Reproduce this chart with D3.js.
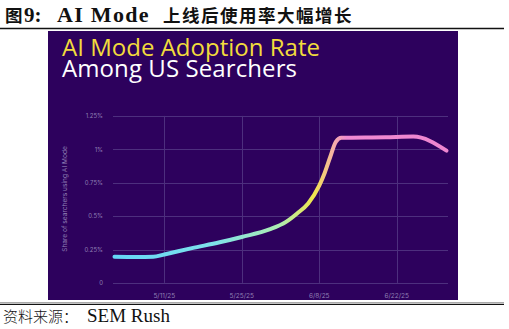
<!DOCTYPE html>
<html>
<head>
<meta charset="utf-8">
<script src="https://cdn.jsdelivr.net/npm/d3@7"></script>
<style>
  html, body { margin: 0; padding: 0; background: #fff; }
  svg { display: block; }
</style>
</head>
<body>
<svg id="chart" width="509" height="329"></svg>
<script>
// 采用率数据（日期, 占比 %）
const dates = ['2025-05-02', '2025-05-06', '2025-05-09', '2025-05-11', '2025-05-16', '2025-05-21',
  '2025-05-25', '2025-05-30', '2025-06-02', '2025-06-04', '2025-06-06', '2025-06-08',
  '2025-06-09', '2025-06-10', '2025-06-11', '2025-06-12', '2025-06-20', '2025-06-25', '2025-07-01'];
const shares = [0.195, 0.193, 0.195, 0.213, 0.26, 0.304,
  0.344, 0.40, 0.457, 0.52, 0.595, 0.728,
  0.825, 0.944, 1.056, 1.086, 1.09, 1.095, 0.99];
const xTicks = ['2025-05-11', '2025-05-25', '2025-06-08', '2025-06-22'];
const yTicks = [0, 0.25, 0.5, 0.75, 1, 1.25];
const yTickLabels = ['0', '0.25%', '0.5%', '0.75%', '1%', '1.25%'];

const parse = d3.timeParse('%Y-%m-%d');
const fmtDate = d3.timeFormat('%-m/%-d/%y');
const data = dates.map((d, i) => ({ date: parse(d), v: shares[i] }));

const svg = d3.select('#chart');

// 报告标题
const cjk = '"Noto Sans CJK SC"';
const serif = '"Liberation Serif", "Times New Roman", serif';
svg.append('text').attr('x', 5).attr('y', 22).attr('font-family', cjk).attr('font-size', 17.5)
  .attr('font-weight', 'bold').attr('fill', '#111').text('图');
svg.append('text').attr('x', 24).attr('y', 22).attr('font-family', serif).attr('font-size', 21)
  .attr('font-weight', 'bold').attr('fill', '#111').text('9:');
svg.append('text').attr('x', 57).attr('y', 22).attr('font-family', serif).attr('font-size', 22)
  .attr('font-weight', 'bold').attr('letter-spacing', 1.3).attr('fill', '#111').text('AI Mode');
svg.append('text').attr('x', 163).attr('y', 22).attr('font-family', cjk).attr('font-size', 17.5)
  .attr('font-weight', 'bold').attr('letter-spacing', 1.5).attr('fill', '#111').text('上线后使用率大幅增长');

svg.append('line').attr('x1', 0).attr('x2', 504).attr('y1', 28.5).attr('y2', 28.5)
  .attr('stroke', '#111').attr('stroke-width', 1.5);

// 紫色面板
const panel = { x: 48, y: 31, w: 410, h: 269 };
svg.append('rect').attr('x', panel.x).attr('y', panel.y)
  .attr('width', panel.w).attr('height', panel.h).attr('fill', '#2d015d');

// 面板标题：按目标宽度调整字距
const sans = '"Open Sans", Lato, sans-serif';
function fitTitle(str, yPos, color, width) {
  const t = svg.append('text').attr('x', 62).attr('y', yPos)
    .attr('font-family', sans).attr('font-size', 24).attr('fill', color).text(str);
  const natural = t.node().getComputedTextLength();
  t.attr('letter-spacing', Math.max(0, (width - natural) / (str.length - 1)));
  return t;
}
fitTitle('AI Mode Adoption Rate', 56, '#f2dc3c', 258);
fitTitle('Among US Searchers', 77, '#ffffff', 235);

const x = d3.scaleTime().domain([parse('2025-05-02'), parse('2025-07-01')]).range([114.5, 446.5]);
const y = d3.scaleLinear().domain([0, 1.25]).range([282.9, 115.9]);

const gridColor = '#4d2f7e';
const labelColor = '#8f7fb3';
const small = 'Inter, "Open Sans", sans-serif';

// 网格
svg.append('g').selectAll('line').data(yTicks).enter().append('line')
  .attr('x1', 113).attr('x2', 448)
  .attr('y1', (d) => Math.round(y(d)) + 0.5).attr('y2', (d) => Math.round(y(d)) + 0.5)
  .attr('stroke', gridColor).attr('stroke-width', 1);
svg.append('g').selectAll('line').data(xTicks).enter().append('line')
  .attr('x1', (d) => Math.round(x(parse(d))) + 0.5).attr('x2', (d) => Math.round(x(parse(d))) + 0.5)
  .attr('y1', y(1.25)).attr('y2', y(0))
  .attr('stroke', gridColor).attr('stroke-width', 1);

// 刻度文字
svg.append('g').selectAll('text').data(yTicks).enter().append('text')
  .attr('x', 103).attr('y', (d) => y(d) + 2.2)
  .attr('text-anchor', 'end').attr('font-family', small).attr('font-size', 6)
  .attr('fill', labelColor).text((d, i) => yTickLabels[i]);
svg.append('g').selectAll('text').data(xTicks).enter().append('text')
  .attr('x', (d) => x(parse(d))).attr('y', 297.5)
  .attr('text-anchor', 'middle').attr('font-family', small).attr('font-size', 6.5)
  .attr('fill', labelColor).text((d) => fmtDate(parse(d)));

svg.append('text').attr('transform', 'translate(67,199) rotate(-90)')
  .attr('text-anchor', 'middle').attr('font-family', small).attr('font-size', 6.6)
  .attr('fill', labelColor).text('Share of searchers using AI Mode');

// 渐变曲线：青 → 薄荷 → 黄 → 粉
const grad = svg.append('defs').append('linearGradient').attr('id', 'lineGrad')
  .attr('gradientUnits', 'userSpaceOnUse')
  .attr('x1', x.range()[0]).attr('x2', x.range()[1]).attr('y1', 0).attr('y2', 0);
[[0, '#64d6f6'], [0.3, '#7ee2ea'], [0.5, '#aeedb0'], [0.6, '#f1e64c'], [0.66, '#f5b0a8'], [0.7, '#f08ad2'], [1, '#ee86d0']]
  .forEach(([o, c]) => grad.append('stop').attr('offset', o).attr('stop-color', c));

const line = d3.line().x((d) => x(d.date)).y((d) => y(d.v)).curve(d3.curveMonotoneX);
svg.append('path').datum(data).attr('d', line)
  .attr('fill', 'none').attr('stroke', 'url(#lineGrad)').attr('stroke-width', 4)
  .attr('stroke-linecap', 'round').attr('stroke-linejoin', 'round');

// 底部分隔线与来源
svg.append('line').attr('x1', 0).attr('x2', 504).attr('y1', 302.5).attr('y2', 302.5)
  .attr('stroke', '#aaa').attr('stroke-width', 1);
svg.append('line').attr('x1', 0).attr('x2', 504).attr('y1', 304.3).attr('y2', 304.3)
  .attr('stroke', '#111').attr('stroke-width', 1.3);

svg.append('text').attr('x', 3).attr('y', 322).attr('font-family', cjk).attr('font-size', 15)
  .attr('font-weight', 300).attr('fill', '#111').text('资料来源：');
svg.append('text').attr('x', 87).attr('y', 322).attr('font-family', serif).attr('font-size', 19)
  .attr('fill', '#111').text('SEM Rush');
</script>
</body>
</html>
